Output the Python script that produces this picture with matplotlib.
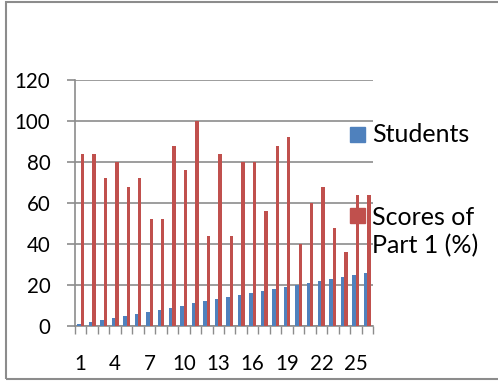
import numpy as np
import matplotlib
matplotlib.use("Agg")
import matplotlib.pyplot as plt
from matplotlib.patches import Rectangle

# student number and their score on part 1
students = list(range(1, 27))
scores = [84, 84, 72, 80, 68, 72, 52, 52, 88, 76, 100, 44, 84,
          44, 80, 80, 56, 88, 92, 40, 60, 68, 48, 36, 64, 64]
tick_labels = [str(s) for s in students[::3]]
series_names = ["Students", "Scores of\nPart 1 (%)"]

blue = "#4F81BD"
red = "#C0504D"
grey = "#8C8C8C"

plt.rcParams['font.family'] = ['Lato', 'DejaVu Sans']

W, H = 498, 381
fig = plt.figure(figsize=(W / 100, H / 100), dpi=100)
ax = fig.add_axes([75 / W, 1 - 326 / H, (373 - 75) / W, (326 - 80) / H])

x = np.arange(len(students))
w = 0.3
ax.bar(x - w / 2, students, width=w, color=blue, zorder=3)
ax.bar(x + w / 2, scores, width=w, color=red, zorder=3)

ax.set_xlim(-0.5, len(students) - 0.5)
ax.set_ylim(0, 120)
ax.set_yticks(range(0, 121, 20))
ax.set_xticks(x[::3])
ax.set_xticklabels(tick_labels)
ax.set_xticks(np.arange(-0.5, len(students), 1.0), minor=True)

ax.grid(axis="y", color=grey, linewidth=1.2, zorder=0)
for s in ["top", "right"]:
    ax.spines[s].set_visible(False)
for s in ["left", "bottom"]:
    ax.spines[s].set_color(grey)
    ax.spines[s].set_linewidth(1.2)

ax.tick_params(axis="y", length=5.8, width=1.2, color=grey, pad=12, labelsize=14.8)
ax.tick_params(axis="x", which="major", length=0, pad=20, labelsize=14.8)
ax.tick_params(axis="x", which="minor", length=6, width=1.0, color=grey)

# legend on the right, square swatch beside the first line of each name
sq = 15
for (name, col, y_sq, y_txt) in [(series_names[0], blue, 127, 134),
                                 (series_names[1], red, 208, 231.5)]:
    fig.add_artist(Rectangle((350 / W, 1 - (y_sq + sq) / H), sq / W, sq / H,
                             color=col, transform=fig.transFigure))
    fig.text(372 / W, 1 - y_txt / H, name, fontsize=18, va="center",
             ha="left", linespacing=1.25)

# outer chart frame
fig.add_artist(Rectangle((6 / W, 2 / H), 1.1, 1 - 4 / H, transform=fig.transFigure,
                         fill=False, edgecolor=grey, linewidth=1.5))

fig.savefig("out.png", dpi=100)
